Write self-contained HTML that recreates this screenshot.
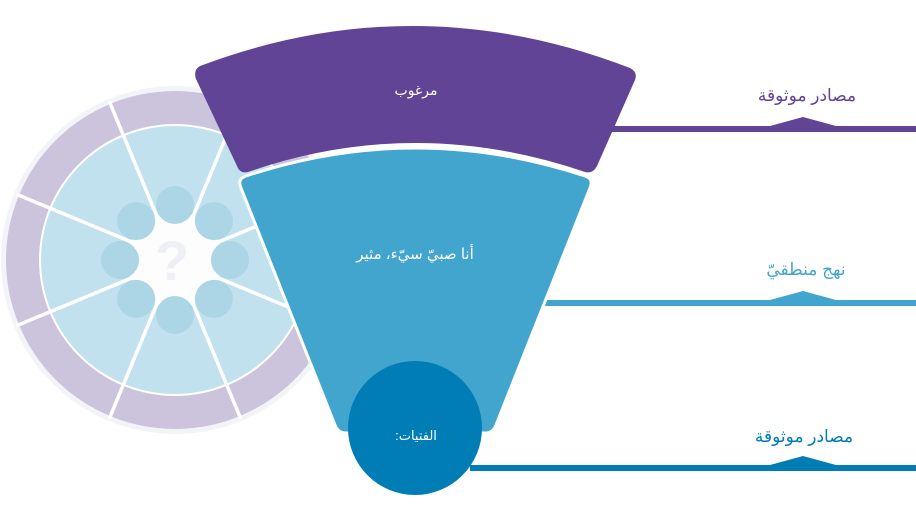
<!DOCTYPE html>
<html><head><meta charset="utf-8"><style>
html,body{margin:0;padding:0;background:#fff;}
svg{display:block;}
text{font-family:"Liberation Sans","DejaVu Sans",sans-serif;}
</style></head><body>
<svg width="916" height="515" viewBox="0 0 916 515" xmlns="http://www.w3.org/2000/svg">
<!-- wheel -->
<circle cx="175" cy="260" r="174" fill="#f3f4f8"/>
<circle cx="175" cy="260" r="169" fill="#ccc3dd"/>
<circle cx="175" cy="260" r="136" fill="#fff"/>
<circle cx="175" cy="260" r="134" fill="#c2e1ee"/>
<g stroke="#fff" stroke-width="3.5">
<line x1="175" y1="220" x2="175" y2="88" transform="rotate(22.5 175 260)"/>
<line x1="175" y1="220" x2="175" y2="88" transform="rotate(67.5 175 260)"/>
<line x1="175" y1="220" x2="175" y2="88" transform="rotate(112.5 175 260)"/>
<line x1="175" y1="220" x2="175" y2="88" transform="rotate(157.5 175 260)"/>
<line x1="175" y1="220" x2="175" y2="88" transform="rotate(202.5 175 260)"/>
<line x1="175" y1="220" x2="175" y2="88" transform="rotate(247.5 175 260)"/>
<line x1="175" y1="220" x2="175" y2="88" transform="rotate(292.5 175 260)"/>
<line x1="175" y1="220" x2="175" y2="88" transform="rotate(337.5 175 260)"/>
</g>
<circle cx="175" cy="260" r="48" fill="#fdfdfe"/>
<g fill="#acd5e6">
<circle cx="175" cy="205" r="19"/>
<circle cx="175" cy="205" r="19" transform="rotate(45 175 260)"/>
<circle cx="175" cy="205" r="19" transform="rotate(90 175 260)"/>
<circle cx="175" cy="205" r="19" transform="rotate(135 175 260)"/>
<circle cx="175" cy="205" r="19" transform="rotate(180 175 260)"/>
<circle cx="175" cy="205" r="19" transform="rotate(225 175 260)"/>
<circle cx="175" cy="205" r="19" transform="rotate(270 175 260)"/>
<circle cx="175" cy="205" r="19" transform="rotate(315 175 260)"/>
</g>
<text x="172" y="280" font-size="56" font-weight="bold" fill="#eef0f5" text-anchor="middle">?</text>

<!-- connector lines -->
<path d="M612,126 H770 L803,117 L836,126 H916 V132 H612 Z" fill="#614495"/>
<path d="M545,300 H770 L803,291 L836,300 H916 V306 H545 Z" fill="#41a5cd"/>
<path d="M470,465 H770 L803,456 L836,465 H916 V471 H470 Z" fill="#007db5"/>

<!-- purple band -->
<path d="M200,66 Q415,-15 630,68 Q638,72 635,80 L597,166 Q593,174 585,172 Q415,114 248,172 Q240,174 237,166 L196,79 Q193,70 200,66 Z" fill="#614495"/>
<!-- blue band -->
<path d="M246,176 Q415,120 585,176 Q594,179 590,188 L496,425 Q493,433 485,433 L346,433 Q338,433 335,425 L241,188 Q237,179 246,176 Z" fill="#41a5cd" stroke="#fff" stroke-width="3"/>
<!-- circle -->
<circle cx="415" cy="428" r="67" fill="#007db5"/>

<!-- labels -->
<g font-family="'Liberation Sans','DejaVu Sans',sans-serif" text-anchor="middle" direction="rtl">
<text x="416" y="95" font-size="14" fill="#fff">مرغوب</text>
<text x="415" y="259" font-size="15" fill="#fff">أنا صبيّ سيّء، مثير</text>
<text x="416" y="440" font-size="13" fill="#fff">الفتيات:</text>
<text x="807" y="101" font-size="17" fill="#614495">مصادر موثوقة</text>
<text x="806" y="275" font-size="17" fill="#41a5cd">نهج منطقيّ</text>
<text x="804" y="442" font-size="17" fill="#007db5">مصادر موثوقة</text>
</g>
</svg>
</body></html>
